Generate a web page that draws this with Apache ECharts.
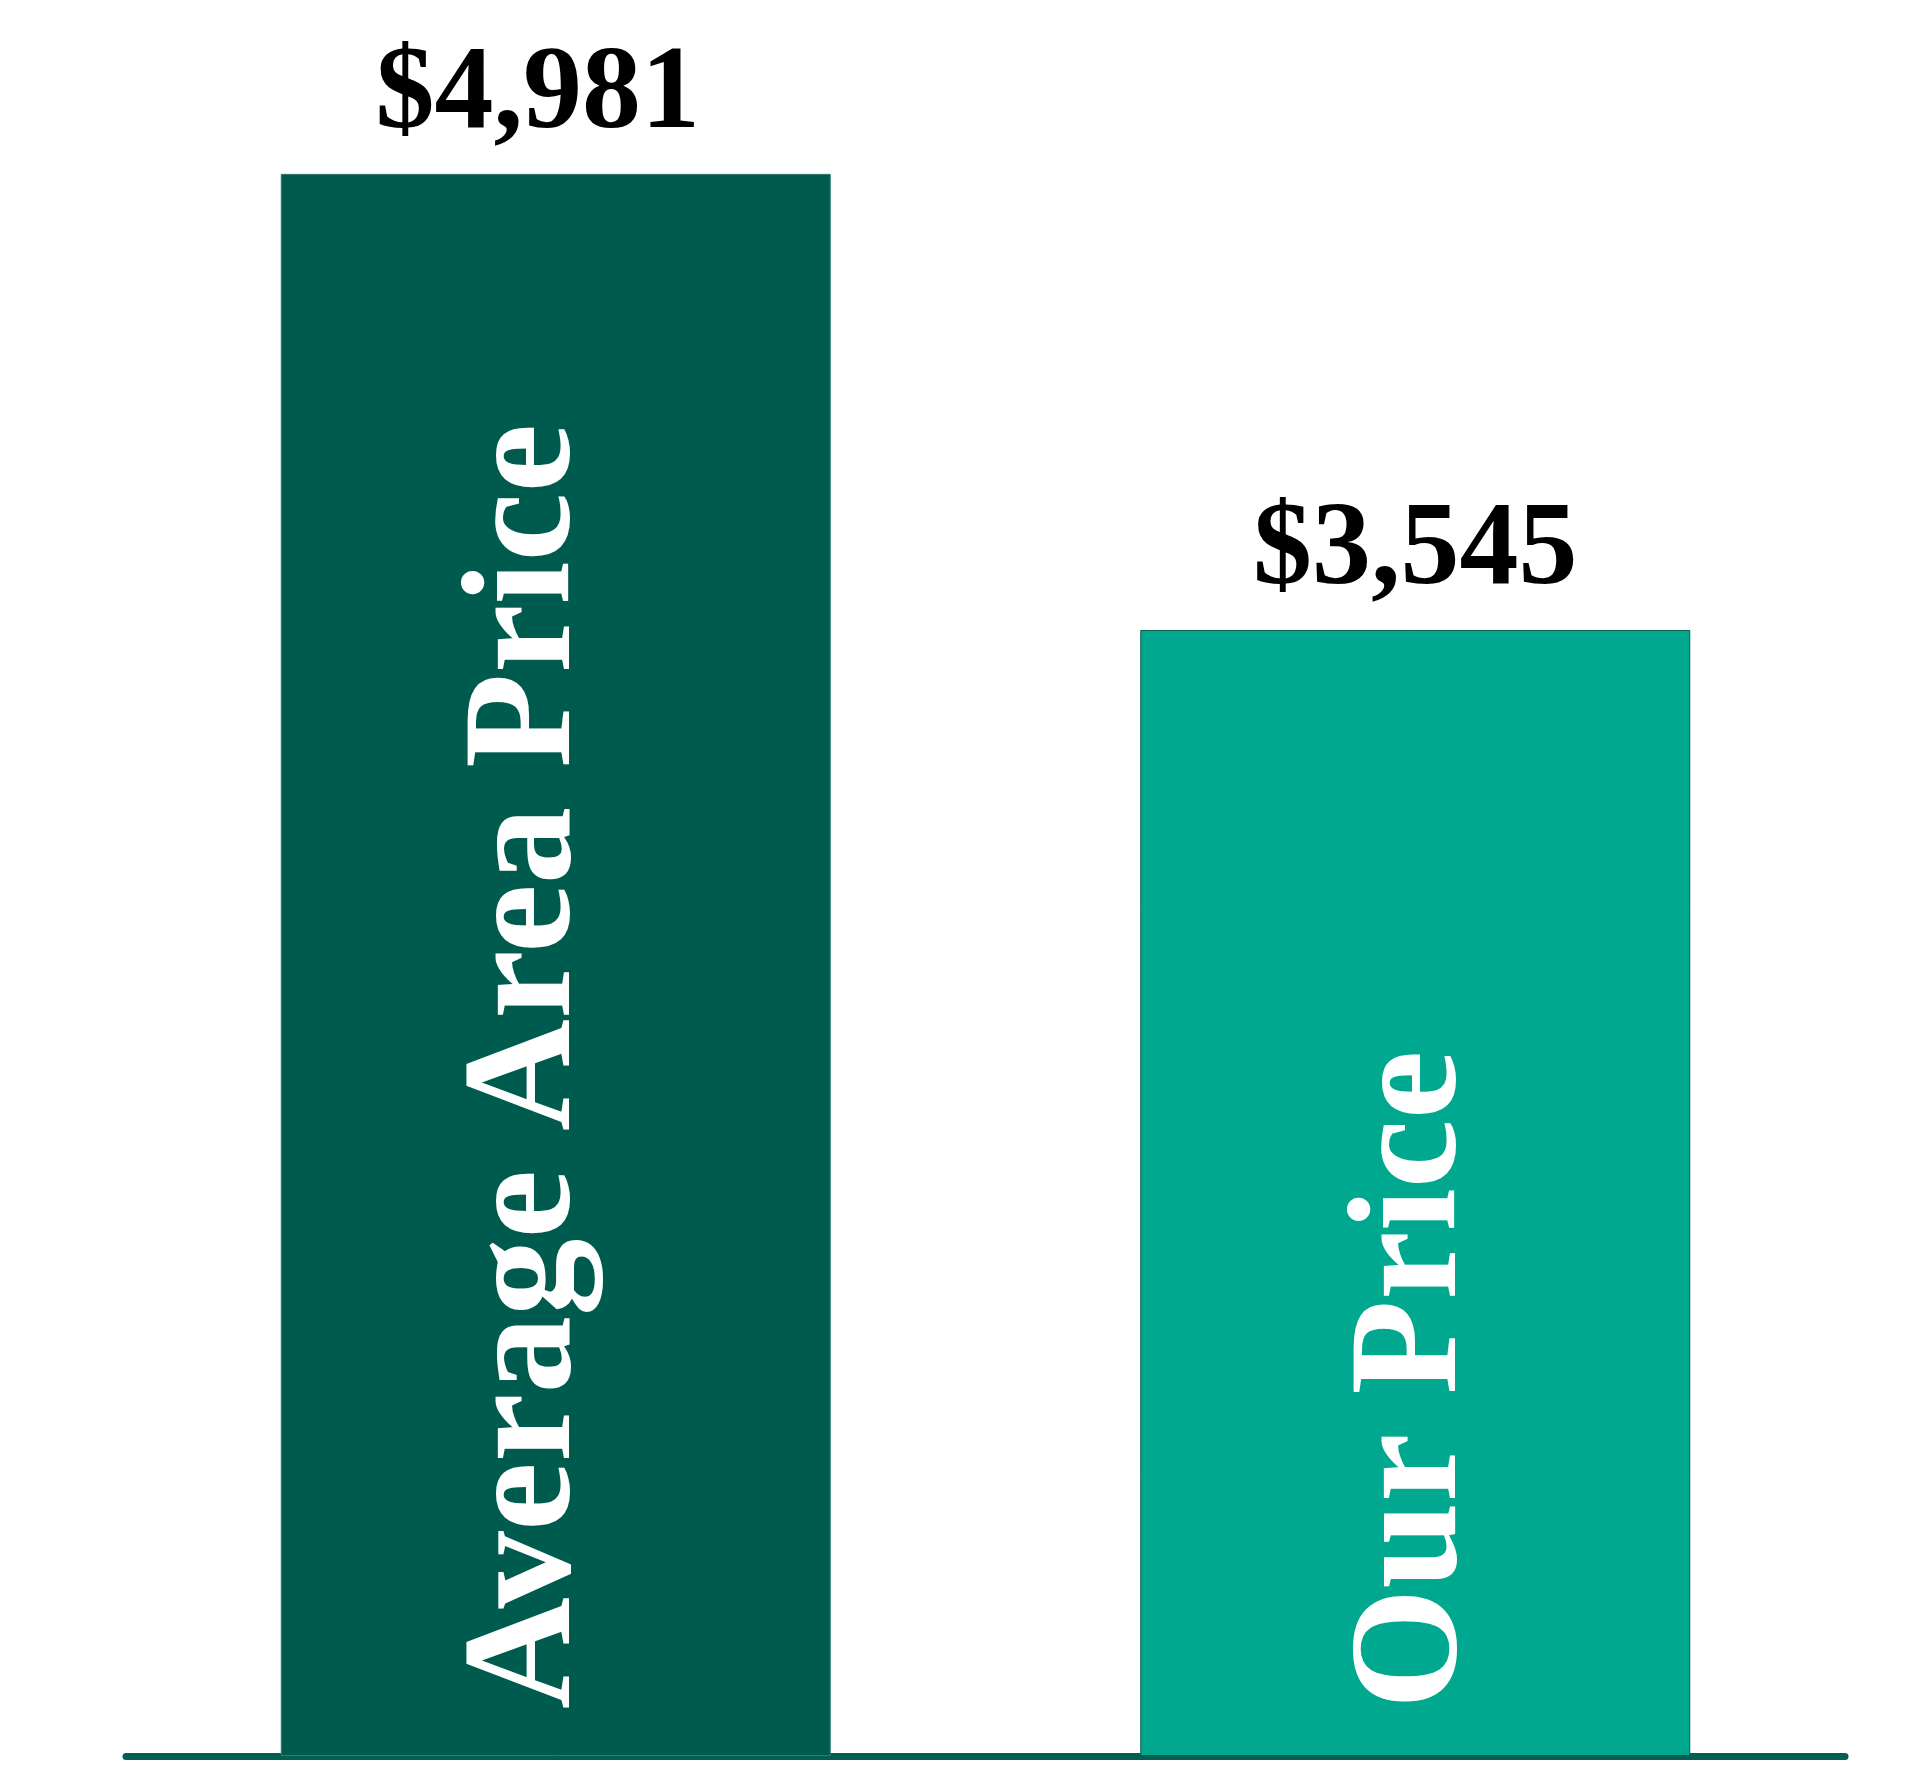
<!DOCTYPE html>
<html>
<head>
    <meta charset="utf-8">
    <title>Average Area Price vs Our Price</title>
    <script src="https://cdn.jsdelivr.net/npm/echarts@6/dist/echarts.min.js"></script>
    <style>
        html, body { margin: 0; padding: 0; background: #fff; }
    </style>
</head>
<body>
    <div id="main" style="width: 1920px;height:1792px;"></div>
</body>
</html>
<script>
    // categories and values
    var categories = ['Average Area Price', 'Our Price'];
    var prices = [4981, 3545];
    var barColors = ['#005B4F', '#00A88F'];
    var borderColors = ['#2F7D70', '#0D5C4F'];
    // nudge of the rotated name text (label frame is rotated, so y moves it sideways)
    var nameShift = [-27, 0];
    // nudge of the value text above each bar
    var valueShift = [-18, 0];

    var chart = echarts.init(document.getElementById('main'));

    var serif = "'Liberation Serif', 'Times New Roman', serif";

    function money(v) {
        return '$' + Number(v).toLocaleString('en-US');
    }

    var barData = [];
    var valueData = [];
    for (var i = 0; i < categories.length; i++) {
        barData.push({
            value: prices[i],
            itemStyle: {
                color: barColors[i],
                borderColor: borderColors[i],
                borderWidth: 1
            },
            label: {
                offset: [0, nameShift[i]]
            }
        });
        valueData.push({
            value: prices[i],
            label: {
                offset: [valueShift[i], 0]
            }
        });
    }

    var option = {
        backgroundColor: '#fff',
        animation: false,
        grid: {
            left: 126,
            right: 75,
            top: 9,
            bottom: 36
        },
        xAxis: {
            type: 'category',
            data: categories,
            axisLine: {
                show: true,
                lineStyle: { color: '#055E52', width: 7 }
            },
            axisTick: { show: false },
            axisLabel: { show: false },
            splitLine: { show: false }
        },
        yAxis: {
            type: 'value',
            min: 0,
            max: 5500,
            show: false,
            splitLine: { show: false }
        },
        series: [
            {
                // name text, rotated inside the bar
                name: 'price',
                type: 'bar',
                barWidth: 550,
                data: barData,
                label: {
                    show: true,
                    position: 'insideBottom',
                    distance: 47,
                    rotate: 90,
                    align: 'left',
                    verticalAlign: 'middle',
                    formatter: function (p) { return p.name; },
                    color: '#fff',
                    fontFamily: serif,
                    fontWeight: 'bold',
                    fontSize: 155
                },
                z: 3
            },
            {
                // value labels above the bars
                name: 'value',
                type: 'bar',
                barWidth: 550,
                barGap: '-100%',
                silent: true,
                data: valueData,
                itemStyle: { color: 'rgba(0,0,0,0)' },
                label: {
                    show: true,
                    position: 'top',
                    distance: 18,
                    formatter: function (p) { return money(p.value); },
                    color: '#000',
                    fontFamily: serif,
                    fontWeight: 'bold',
                    fontSize: 118
                },
                z: 2
            }
        ]
    };

    chart.setOption(option);
</script>
